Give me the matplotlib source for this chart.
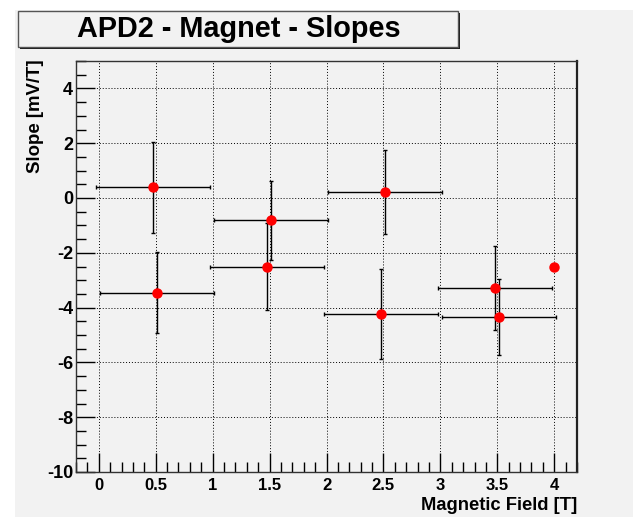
import matplotlib.pyplot as plt
import matplotlib.patches as patches
from matplotlib.ticker import MultipleLocator

plt.rcParams['font.family'] = ['Liberation Sans', 'DejaVu Sans']
plt.rcParams['axes.unicode_minus'] = False

# data
field = [0.48, 0.515, 1.515, 1.477, 2.515, 2.477, 3.477, 3.515, 4.0]
slope = [0.39, -3.45, -0.82, -2.51, 0.23, -4.23, -3.28, -4.34, -2.52]
field_err = [0.5, 0.5, 0.5, 0.5, 0.5, 0.5, 0.5, 0.5, 0.0]
slope_err = [1.67, 1.47, 1.43, 1.59, 1.53, 1.64, 1.54, 1.39, 0.12]

xticks = [0, 0.5, 1, 1.5, 2, 2.5, 3, 3.5, 4]
xtick_labels = ['0', '0.5', '1', '1.5', '2', '2.5', '3', '3.5', '4']
yticks = [-10, -8, -6, -4, -2, 0, 2, 4]

W, H = 633, 517
bg = '#f2f2f2'


def fx(px):
    return px / W


def fy(py):
    return 1 - py / H


fig = plt.figure(figsize=(W / 100, H / 100), dpi=100, facecolor='white')

# grey canvas (white strip at top and left)
fig.patches.append(patches.Rectangle((fx(15), 0), 1, fy(10), transform=fig.transFigure,
                                     facecolor=bg, edgecolor='none', zorder=-10))

# title box with shadow
fig.patches.append(patches.Rectangle((fx(20), fy(48.7)), fx(458) - fx(18), fy(11) - fy(46.7),
                                     transform=fig.transFigure, facecolor='#1a1a1a',
                                     edgecolor='none', zorder=1))
fig.patches.append(patches.Rectangle((fx(18), fy(46.7)), fx(458) - fx(18), fy(11) - fy(46.7),
                                     transform=fig.transFigure, facecolor=bg,
                                     edgecolor='#555555', linewidth=1, zorder=2))
fig.text(fx(238.5), fy(29), 'APD2 - Magnet - Slopes', ha='center', va='center',
         fontsize=20.8, fontweight='bold', zorder=3)

ax = fig.add_axes([fx(76), fy(472), fx(577) - fx(76), fy(61) - fy(472)])
ax.set_facecolor(bg)

ax.errorbar(field, slope, xerr=field_err, yerr=slope_err, fmt='o', color='red',
            markersize=6.5, mec='red', ecolor='black', elinewidth=1, capsize=1.6,
            capthick=1, zorder=3)

ax.set_xlim(-0.2, 4.2)
ax.set_ylim(-10, 5)
ax.xaxis.set_minor_locator(MultipleLocator(0.1))
ax.yaxis.set_minor_locator(MultipleLocator(0.5))
ax.set_xticks(xticks)
ax.set_xticklabels(xtick_labels)
ax.set_yticks(yticks)

ax.tick_params(which='major', direction='in', length=14, width=1, top=False, right=False)
ax.tick_params(which='minor', direction='in', length=7, width=1, top=False, right=False)
ax.tick_params(axis='x', which='major', pad=4, labelsize=12)
ax.tick_params(axis='y', which='major', pad=2, labelsize=13)
for lab in ax.get_xticklabels() + ax.get_yticklabels():
    lab.set_fontweight('bold')

ax.grid(True, which='major', linestyle=(0, (1, 2)), color='black', linewidth=0.7)
ax.set_axisbelow(True)

for side in ['left', 'bottom', 'top']:
    ax.spines[side].set_linewidth(1)
    ax.spines[side].set_color('#333333')
ax.spines['right'].set_linewidth(1.6)
ax.spines['right'].set_color('#222222')

fig.text(fx(577), fy(506), 'Magnetic Field [T]', ha='right', va='center',
         fontsize=13.2, fontweight='bold')
fig.text(fx(35), fy(59), 'Slope [mV/T]', ha='center', va='top', rotation=90,
         fontsize=13.4, fontweight='bold')

plt.savefig('out.png', dpi=100, facecolor='white')
